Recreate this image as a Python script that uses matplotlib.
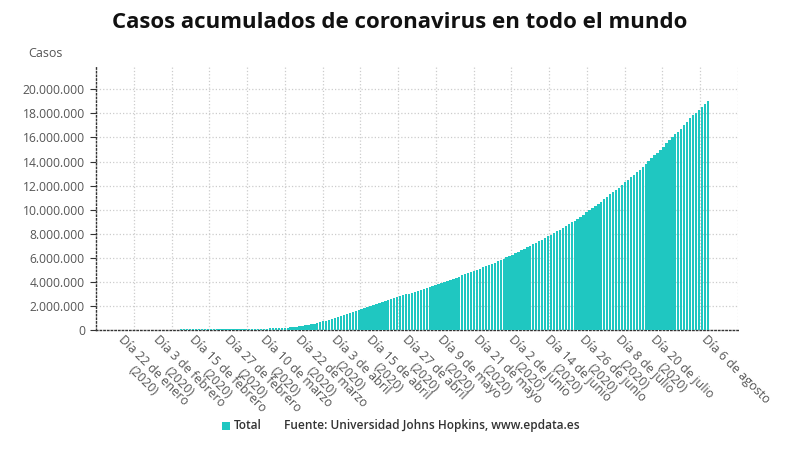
import numpy as np
import matplotlib
matplotlib.use("Agg")
import matplotlib.pyplot as plt
from matplotlib.patches import Rectangle
from matplotlib.ticker import FuncFormatter

plt.rcParams["font.family"] = ["Open Sans", "DejaVu Sans"]

# Casos acumulados (Universidad Johns Hopkins), 22 de enero - 6 de agosto 2020
enero = [555, 654, 941, 1434, 2118, 2927, 5578, 6166, 8234, 9927]
febrero = [12038, 16787, 19887, 23898, 27643, 30802, 34395, 37129, 40159, 42768,
           44810, 45228, 60381, 66909, 69052, 71235, 73270, 75152, 75652, 76212,
           76841, 78602, 78982, 79546, 80399, 81376, 82738, 84124, 86013]
marzo = [88371, 90309, 92844, 95124, 97886, 101800, 105836, 109835, 113582, 118582,
         125865, 128343, 145193, 156097, 167449, 181531, 197146, 214910, 242708, 272166,
         304524, 336953, 378235, 418045, 467653, 529591, 593291, 660706, 720117, 782365,
         857487]
abril = [932605, 1013466, 1095917, 1176060, 1249754, 1321481, 1396476, 1479804, 1565278, 1657526,
         1735650, 1834721, 1904838, 1976191, 2056054, 2152437, 2240190, 2317758, 2401378, 2472258,
         2549123, 2624068, 2708885, 2795735, 2881140, 2955033, 3023722, 3097229, 3172287, 3256846]
mayo = [3343777, 3427584, 3506729, 3583055, 3662691, 3755341, 3845718, 3938064, 4024009, 4101699,
        4177502, 4261747, 4347018, 4442163, 4542347, 4634068, 4713620, 4801943, 4897492, 4996472,
        5102424, 5210817, 5310362, 5407613, 5495061, 5589626, 5691790, 5808946, 5930252, 6059017,
        6166946]
junio = [6265852, 6386353, 6508635, 6632985, 6764008, 6891224, 6999221, 7118523, 7242235, 7379863,
         7518200, 7646789, 7781006, 7912200, 8042210, 8184866, 8327069, 8467470, 8648150, 8806890,
         8937300, 9073640, 9237000, 9404000, 9584000, 9767000, 9954000, 10115000, 10276000, 10450000]
julio = [10665000, 10875000, 11079000, 11269000, 11447000, 11618000, 11834000, 12048000, 12263000, 12492000,
         12719000, 12904000, 13109000, 13324000, 13556000, 13812000, 14052000, 14290000, 14508000, 14712000,
         14946000, 15227000, 15512000, 15796000, 16048000, 16257000, 16484000, 16741000, 17030000, 17319000,
         17605000]
agosto = [17840000, 18050000, 18260000, 18500000, 18760000, 19020000]

tick_idx = [0, 12, 24, 36, 48, 60, 72, 84, 96, 108, 120, 132, 144, 156, 168, 180, 197]
tick_labels = ["Día 22 de enero\n(2020)", "Día 3 de febrero\n(2020)", "Día 15 de febrero\n(2020)",
               "Día 27 de febrero\n(2020)", "Día 10 de marzo\n(2020)", "Día 22 de marzo\n(2020)",
               "Día 3 de abril\n(2020)", "Día 15 de abril\n(2020)", "Día 27 de abril\n(2020)",
               "Día 9 de mayo\n(2020)", "Día 21 de mayo\n(2020)", "Día 2 de junio\n(2020)",
               "Día 14 de junio\n(2020)", "Día 26 de junio\n(2020)", "Día 8 de julio\n(2020)",
               "Día 20 de julio\n(2020)", "Día 6 de agosto"]

total = enero + febrero + marzo + abril + mayo + junio + julio + agosto
x = np.arange(len(total))

teal = "#1fc7c1"
grey = "#555555"

fig = plt.figure(figsize=(8, 4.5), dpi=100)
ax = fig.add_axes([0.12, 0.2667, 0.8025, 0.5843])

ax.bar(x, total, width=0.8, color=teal, zorder=3)

xmin, xmax = -9.8, 207.2
ax.set_xlim(xmin, xmax)
ax.set_ylim(0, 21_850_000)

ax.set_yticks(np.arange(0, 20_000_001, 2_000_000))
ax.yaxis.set_major_formatter(FuncFormatter(lambda v, p: f"{int(v):,}".replace(",", ".")))
ax.tick_params(axis="y", length=4, width=0.8, color="#333333", labelsize=8.7, labelcolor=grey, pad=4)

ax.set_xticks(tick_idx)
ax.set_xticklabels(tick_labels, rotation=-45, ha="left", va="top",
                   rotation_mode="anchor", multialignment="center")
ax.tick_params(axis="x", length=0, labelsize=9, labelcolor=grey, pad=2)

# vertical grid: equal divisions of the plot width
ax.set_xticks(np.linspace(xmin, xmax, 18)[1:], minor=True)
ax.tick_params(axis="x", which="minor", length=0)
ax.grid(axis="y", which="major", color="#cccccc", linestyle=":", linewidth=0.9, zorder=0)
ax.grid(axis="x", which="minor", color="#cccccc", linestyle=":", linewidth=0.9, zorder=0)

for s in ["top", "right"]:
    ax.spines[s].set_visible(False)
for s in ["left", "bottom"]:
    ax.spines[s].set_color("#333333")
    ax.spines[s].set_linestyle(":")
    ax.spines[s].set_linewidth(1.0)

fig.text(0.5, 0.95, "Casos acumulados de coronavirus en todo el mundo",
         ha="center", va="center", fontsize=16, fontweight="bold", color="#111111")
fig.text(0.035, 0.882, "Casos", ha="left", va="center", fontsize=9, color=grey)

# legend + source
fig.patches.append(Rectangle((0.2775, 0.045), 0.0100, 0.0178, transform=fig.transFigure,
                             facecolor=teal, edgecolor="none"))
fig.text(0.292, 0.054, "Total", ha="left", va="center", fontsize=8.6, color="#333333",
         fontweight="semibold")
fig.text(0.355, 0.054, "Fuente: Universidad Johns Hopkins, www.epdata.es", ha="left",
         va="center", fontsize=8.6, color="#333333", fontweight="semibold")

fig.savefig("out.png", dpi=100)
